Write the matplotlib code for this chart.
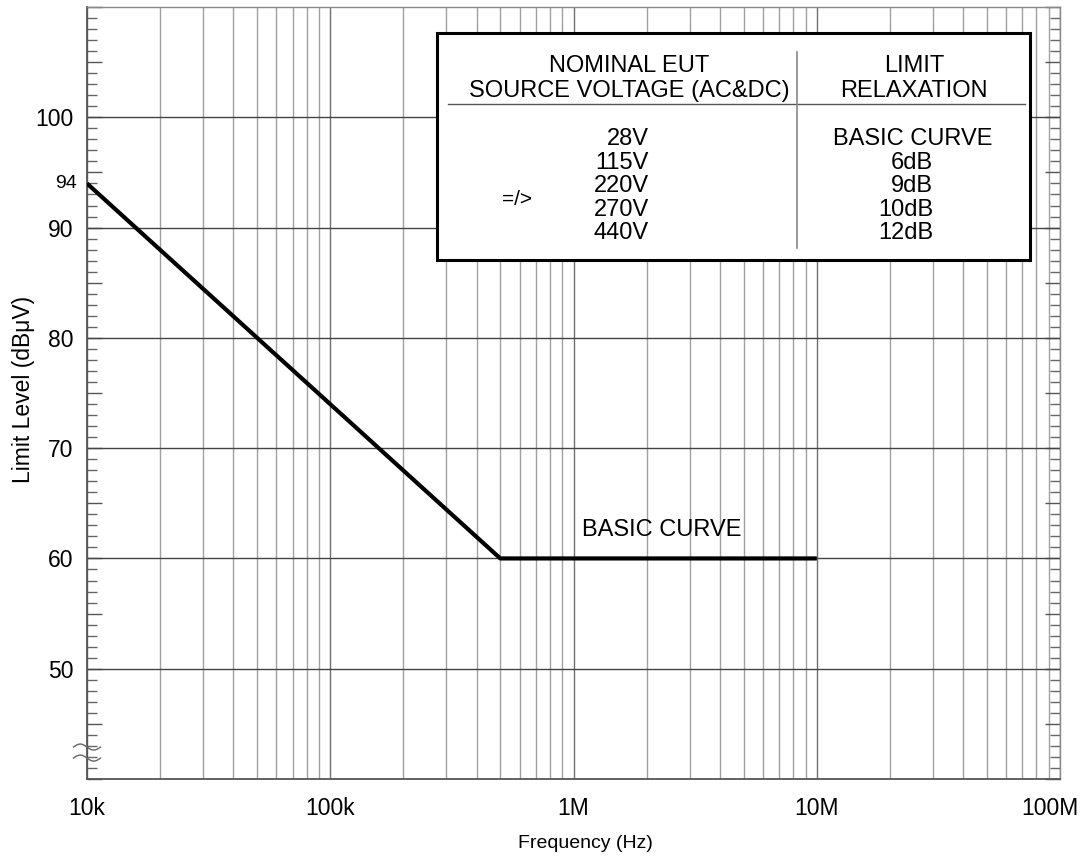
import matplotlib.pyplot as plt
import numpy as np
from matplotlib.patches import Rectangle
from matplotlib.ticker import FuncFormatter, LogLocator, MultipleLocator, NullFormatter
from matplotlib.transforms import ScaledTranslation

plt.rcParams['font.family'] = ['Liberation Sans', 'DejaVu Sans']

# basic limit curve: 94 dBuV at 10 kHz falling 20 dB/dec to 60 dBuV, flat to 10 MHz
freq_hz = [1e4, 5e5, 1e7]
limit_dbuv = [94, 60, 60]

level_labels = [50, 60, 70, 80, 90, 100]
freq_ticks = [1e4, 1e5, 1e6, 1e7, 1e8]
freq_tick_labels = ['10k', '100k', '1M', '10M', '100M']

voltages = ['28V', '115V', '220V', '270V', '440V']
relaxations = ['BASIC CURVE', '6dB', '9dB', '10dB', '12dB']

fig = plt.figure(figsize=(10.86, 8.65), dpi=100)
ax = fig.add_axes([0.0801, 0.0994, 0.8960, 0.8925])

ax.plot(freq_hz, limit_dbuv, color='black', lw=3, solid_capstyle='butt', zorder=3)

ax.set_xscale('log')
ax.set_xlim(1e4, 1e8)
ax.set_ylim(40, 110)

# x axis: grid at every 1..9 of each decade, no tick marks
ax.set_xticks(freq_ticks, freq_tick_labels)
ax.xaxis.set_minor_locator(LogLocator(base=10, subs=np.arange(2, 10)))
ax.xaxis.set_minor_formatter(NullFormatter())
ax.tick_params(axis='x', which='both', length=0, labelsize=16.5, pad=13)
ax.grid(True, axis='x', which='major', color='#707070', lw=1)
ax.grid(True, axis='x', which='minor', color='#a0a0a0', lw=1)
ax.set_axisbelow(True)

# keep the last frequency label inside the figure
last = ax.get_xticklabels()[-1]
last.set_transform(last.get_transform() + ScaledTranslation(-0.105, 0, fig.dpi_scale_trans))

# y axis: inward ticks every dB, longer every 5 dB, labels and lines every 10 dB
ax.yaxis.set_major_locator(MultipleLocator(5))
ax.yaxis.set_minor_locator(MultipleLocator(1))
ax.yaxis.set_major_formatter(
    FuncFormatter(lambda v, p: f'{v:.0f}' if round(v) in level_labels else ''))
ax.tick_params(axis='y', which='major', direction='in', length=10.8, width=1,
               color='#555555', left=True, right=True, labelsize=16.5, pad=10)
ax.tick_params(axis='y', which='minor', direction='in', length=7.2, width=1,
               color='#666666', left=True, right=True)
for lv in level_labels:
    ax.axhline(lv, color='#444444', lw=1, zorder=1)

ax.text(-0.0103, 94, '94', transform=ax.get_yaxis_transform(),
        ha='right', va='center', fontsize=14)

for side in ['left', 'bottom']:
    ax.spines[side].set_color('#555555')
    ax.spines[side].set_linewidth(1.3)
for side in ['top', 'right']:
    ax.spines[side].set_color('#888888')
    ax.spines[side].set_linewidth(1)

# axis break mark near the bottom of the level scale
t = np.linspace(-1, 1, 60)
for y0 in (0.0414, 0.0271):
    ax.plot(13.5 * t / 973, y0 - 3 * np.sin(np.pi * t) / 772, transform=ax.transAxes,
            color='#666666', lw=1, clip_on=False, zorder=6)

ax.text(2.31e6, 62.0, 'BASIC CURVE', ha='center', va='baseline', fontsize=17)

ax.set_xlabel('Frequency (Hz)', fontsize=14)
ax.set_ylabel('Limit Level (dBμV)', fontsize=16.5)
ax.xaxis.set_label_coords(0.512, -0.072)
ax.yaxis.set_label_coords(-0.053, 0.505)

# relaxation table
ax.add_patch(Rectangle((0.3594, 0.6723), 0.6098, 0.2940, transform=ax.transAxes,
                       fc='white', ec='black', lw=2.2, zorder=5, clip_on=False))
ax.plot([0.371, 0.964], [0.874, 0.874], transform=ax.transAxes,
        color='#555555', lw=1, zorder=6)
ax.plot([0.7297, 0.7297], [0.6878, 0.9417], transform=ax.transAxes,
        color='#888888', lw=1.2, zorder=6)

head = dict(transform=ax.transAxes, ha='center', va='baseline', fontsize=17, zorder=7)
ax.text(0.557, 0.9152, 'NOMINAL EUT', **head)
ax.text(0.557, 0.8834, 'SOURCE VOLTAGE (AC&DC)', **head)
ax.text(0.850, 0.9152, 'LIMIT', **head)
ax.text(0.850, 0.8834, 'RELAXATION', **head)

row_y = [0.8212, 0.7908, 0.7604, 0.7299, 0.6995]
for y, volt, relax in zip(row_y, voltages, relaxations):
    ax.text(0.5776, y, volt, transform=ax.transAxes, ha='right', va='baseline',
            fontsize=17, zorder=7)
    if relax == 'BASIC CURVE':
        ax.text(0.849, y, relax, transform=ax.transAxes, ha='center', va='baseline',
                fontsize=17, zorder=7)
    else:
        ax.text(0.8695, y, relax, transform=ax.transAxes, ha='right', va='baseline',
                fontsize=17, zorder=7)
ax.text(0.4262, 0.7435, '=/>', transform=ax.transAxes, ha='left', va='baseline',
        fontsize=15, zorder=7)

fig.savefig('out.png', dpi=100)
